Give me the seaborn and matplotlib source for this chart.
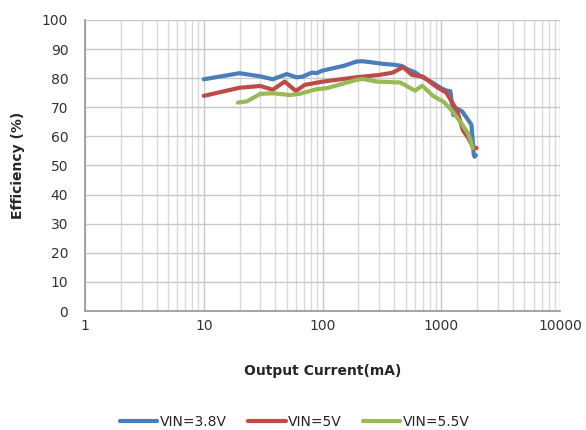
import pandas as pd
import numpy as np
import matplotlib.pyplot as plt
import seaborn as sns

# Courbes
i_38 = [10, 20, 30, 38, 50, 60, 68, 81, 89, 100, 150, 193, 218, 250, 322, 400, 463, 520, 600, 660, 800, 1000, 1109, 1190, 1260, 1380, 1500, 1680, 1790, 1870, 1900, 1950]
eff_38 = [79.6, 81.7, 80.6, 79.6, 81.4, 80.3, 80.5, 81.9, 81.7, 82.6, 84.2, 85.7, 85.8, 85.5, 84.9, 84.6, 84.2, 83.0, 82.0, 80.8, 79.0, 76.5, 75.7, 75.5, 67.3, 69.4, 68.5, 65.6, 64.0, 54.0, 53.0, 53.5]

i_5 = [10, 20, 30, 38, 48, 59.5, 71, 100, 193, 300, 390, 475, 565, 700, 910, 1100, 1350, 1520, 1680, 1840, 1980]
eff_5 = [73.9, 76.7, 77.3, 76.0, 78.8, 75.6, 77.7, 78.8, 80.3, 81.1, 81.9, 83.8, 81.1, 80.5, 77.0, 75.0, 69.0, 62.0, 59.5, 56.4, 56.0]

i_55 = [19.4, 23, 30, 38, 53, 64, 89, 107.5, 193, 218, 285, 450, 525, 600, 690, 850, 1040, 1220, 1440, 1680, 1840]
eff_55 = [71.6, 72.0, 74.6, 74.8, 74.2, 74.6, 76.2, 76.5, 79.4, 79.7, 78.8, 78.5, 77.0, 75.7, 77.4, 73.9, 71.9, 69.0, 65.0, 61.0, 56.0]

series = ["VIN=3.8V", "VIN=5V", "VIN=5.5V"]
couleurs = ["#4a7ebb", "#be4b48", "#98b954"]

df = pd.concat([
    pd.DataFrame({"courant": i_38, "eff": eff_38, "serie": series[0]}),
    pd.DataFrame({"courant": i_5, "eff": eff_5, "serie": series[1]}),
    pd.DataFrame({"courant": i_55, "eff": eff_55, "serie": series[2]}),
])

sns.set_theme(style="white")
plt.rcParams['font.family'] = ['DejaVu Sans']

fig = plt.figure(figsize=(5.86, 4.30), dpi=100)
ax = fig.add_axes([0.145, 0.2767, 0.811, 0.677])

sns.lineplot(data=df, x="courant", y="eff", hue="serie", palette=couleurs,
             sort=False, linewidth=3, ax=ax, legend=True)

ax.set_xscale("log")
ax.set_xlim(1, 10000)
ax.set_ylim(0, 100)
ax.set_yticks(np.arange(0, 101, 10))
ax.set_xticks([1, 10, 100, 1000, 10000])
ax.set_xticklabels(["1", "10", "100", "1000", "10000"])
ax.grid(True, which="major", color="#c8c8c8", linewidth=1)
ax.grid(True, which="minor", axis="x", color="#d9d9d9", linewidth=1)
ax.set_axisbelow(True)
ax.tick_params(axis="both", which="both", length=0, labelsize=10, colors="#333333", pad=6)
ax.tick_params(axis="y", pad=12)
for cote in ["top", "right"]:
    ax.spines[cote].set_visible(False)
ax.spines["left"].set_color("#999999")
ax.spines["bottom"].set_color("#999999")

ax.set_xlabel("Output Current(mA)", fontsize=10, fontweight="bold", labelpad=22)
ax.set_ylabel("Efficiency (%)", fontsize=10, fontweight="bold", labelpad=12)

ax.legend(loc="center", bbox_to_anchor=(0.442, -0.381), ncol=3, frameon=False,
          fontsize=10, handlelength=2.7, handletextpad=0.2, columnspacing=1.5, title=None)

plt.savefig("out.png", dpi=100)
plt.close()
